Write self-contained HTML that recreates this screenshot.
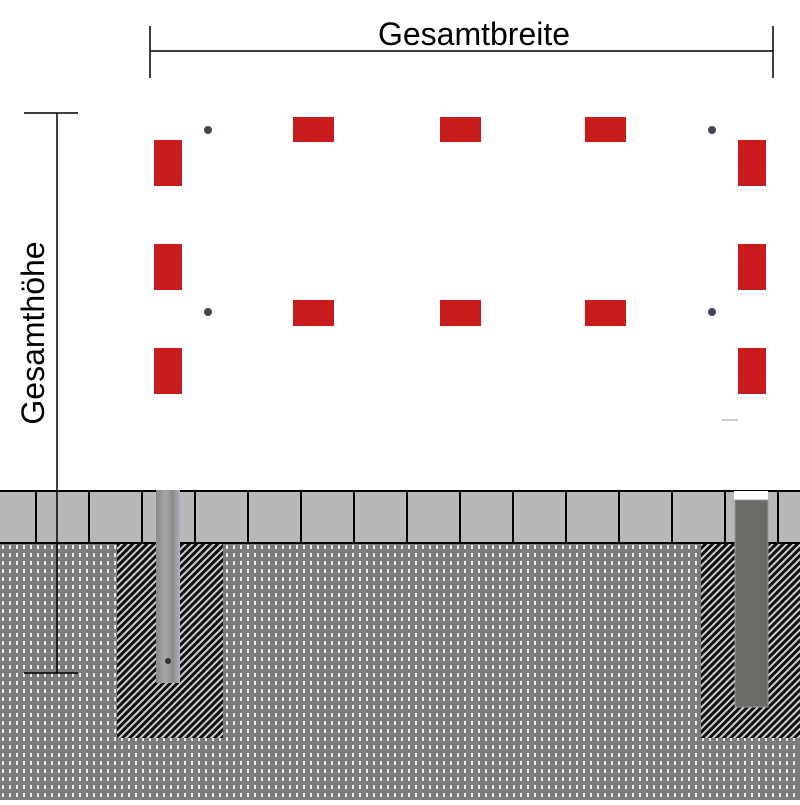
<!DOCTYPE html>
<html><head><style>body{margin:0;background:#fff}</style></head><body>
<svg width="800" height="800" xmlns="http://www.w3.org/2000/svg">
<defs>
<pattern id="dots" width="7" height="8" patternUnits="userSpaceOnUse">
<rect width="7" height="8" fill="#7c7c7c"/><rect x="2" y="1" width="2" height="4" fill="#e8e8e8"/>
</pattern>
<pattern id="hatch" width="5" height="5" patternUnits="userSpaceOnUse" patternTransform="rotate(45)">
<rect width="5" height="5" fill="#111"/><rect width="2" height="5" fill="#ccc"/>
</pattern>
<linearGradient id="pipe" x1="0" x2="1"><stop offset="0" stop-color="#888"/><stop offset="0.4" stop-color="#a8a8a8"/><stop offset="0.7" stop-color="#8a8a8a"/><stop offset="1" stop-color="#b0b0c0"/></linearGradient>
</defs>
<rect x="0" y="543" width="800" height="257" fill="url(#dots)"/>
<rect x="0" y="491" width="800" height="52" fill="#b8b8b8"/>
<g stroke="#000" stroke-width="2">
<line x1="0" y1="491" x2="800" y2="491"/><line x1="0" y1="543" x2="800" y2="543"/>
<line x1="36" y1="491" x2="36" y2="543"/><line x1="89" y1="491" x2="89" y2="543"/><line x1="142" y1="491" x2="142" y2="543"/><line x1="195" y1="491" x2="195" y2="543"/><line x1="248" y1="491" x2="248" y2="543"/><line x1="301" y1="491" x2="301" y2="543"/><line x1="354" y1="491" x2="354" y2="543"/><line x1="407" y1="491" x2="407" y2="543"/><line x1="460" y1="491" x2="460" y2="543"/><line x1="513" y1="491" x2="513" y2="543"/><line x1="566" y1="491" x2="566" y2="543"/><line x1="619" y1="491" x2="619" y2="543"/><line x1="672" y1="491" x2="672" y2="543"/><line x1="725" y1="491" x2="725" y2="543"/><line x1="778" y1="491" x2="778" y2="543"/>
</g>
<rect x="117" y="544" width="106" height="194" fill="url(#hatch)"/>
<rect x="701" y="544" width="99" height="194" fill="url(#hatch)"/>
<rect x="156" y="490" width="24" height="193" fill="url(#pipe)"/>
<circle cx="168" cy="661" r="3" fill="#333"/>
<rect x="734" y="491" width="34" height="9" fill="#fff"/>
<rect x="735" y="500" width="33" height="207" fill="#6b6b68" stroke="#999"/>
<g fill="#c81c1c">
<rect x="154" y="140" width="28" height="46"/><rect x="154" y="244" width="28" height="46"/><rect x="154" y="348" width="28" height="46"/>
<rect x="738" y="140" width="28" height="46"/><rect x="738" y="244" width="28" height="46"/><rect x="738" y="348" width="28" height="46"/>
<rect x="293" y="117" width="41" height="25"/><rect x="440" y="117" width="41" height="25"/><rect x="585" y="117" width="41" height="25"/>
<rect x="293" y="300" width="41" height="26"/><rect x="440" y="300" width="41" height="26"/><rect x="585" y="300" width="41" height="26"/>
</g>
<g fill="#445"><circle cx="208" cy="130" r="4"/><circle cx="712" cy="130" r="4"/><circle cx="208" cy="312" r="4"/><circle cx="712" cy="312" r="4"/></g>
<line x1="722" y1="420" x2="738" y2="420" stroke="#ccc" stroke-width="2"/>
<g stroke="#000" stroke-width="1.5">
<line x1="150" y1="51" x2="773" y2="51"/><line x1="150" y1="26" x2="150" y2="78"/><line x1="773" y1="26" x2="773" y2="78"/>
<line x1="57" y1="113" x2="57" y2="673"/><line x1="24" y1="113" x2="78" y2="113"/><line x1="24" y1="673" x2="78" y2="673"/>
</g>
<text x="474" y="45" font-family="Liberation Sans, sans-serif" font-size="32" text-anchor="middle" fill="#000">Gesamtbreite</text>
<text transform="translate(44,333) rotate(-90)" font-family="Liberation Sans, sans-serif" font-size="32" text-anchor="middle" fill="#000">Gesamthöhe</text>
</svg>
</body></html>
